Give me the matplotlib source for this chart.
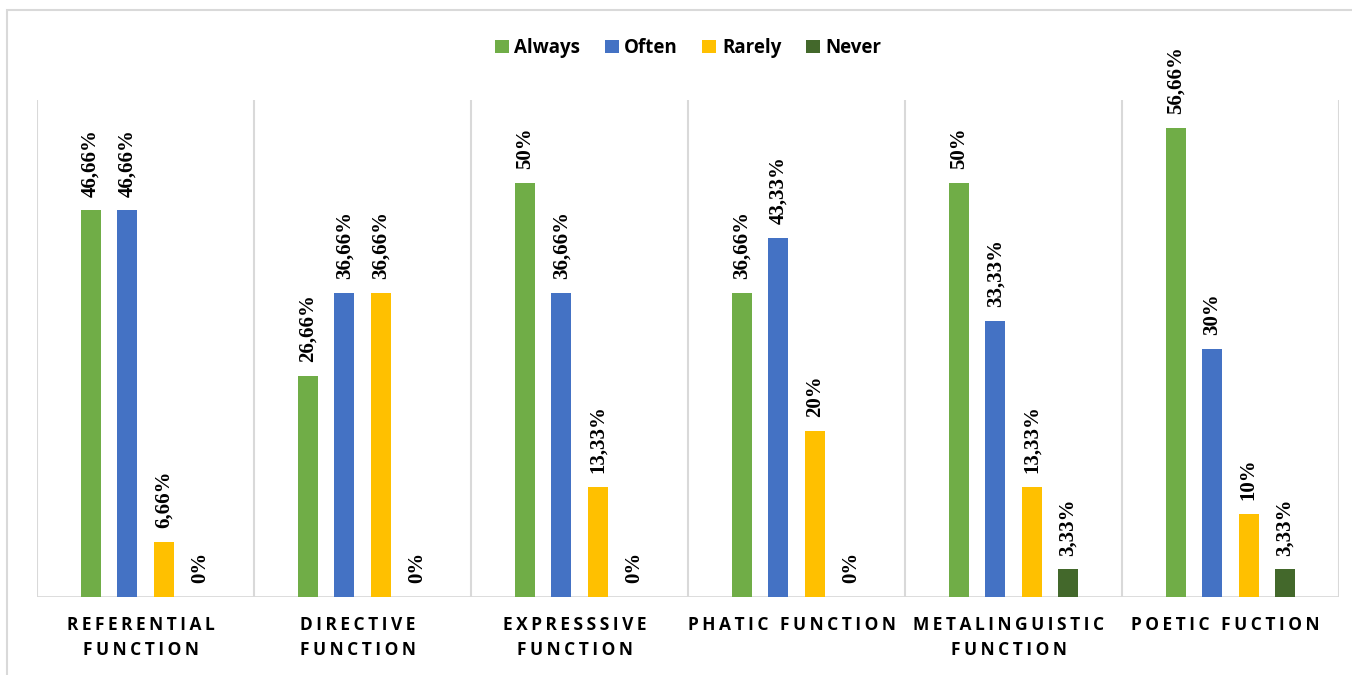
import matplotlib
matplotlib.use("Agg")
import matplotlib.pyplot as plt
import numpy as np
from matplotlib.patches import Rectangle, Patch

categories = [
    "REFERENTIAL\nFUNCTION",
    "DIRECTIVE\nFUNCTION",
    "EXPRESSSIVE\nFUNCTION",
    "PHATIC FUNCTION",
    "METALINGUISTIC\nFUNCTION",
    "POETIC FUCTION",
]
series_names = ["Always", "Often", "Rarely", "Never"]
always = [46.66, 26.66, 50, 36.66, 50, 56.66]
often = [46.66, 36.66, 36.66, 43.33, 33.33, 30]
rarely = [6.66, 36.66, 13.33, 20, 13.33, 10]
never = [0, 0, 0, 0, 3.33, 3.33]

colors = ["#70AD47", "#4472C4", "#FFC000", "#43682B"]
grid_color = "#D9D9D9"

W, H = 1352, 675
fig = plt.figure(figsize=(W / 100, H / 100), dpi=100)
ax = fig.add_axes([37 / W, 1 - 597 / H, (1339 - 37) / W, (597 - 100) / H])

x = np.arange(len(categories))
step = 0.168
width = 0.092
all_series = [always, often, rarely, never]

for i, (vals, col) in enumerate(zip(all_series, colors)):
    pos = x + (i - 1.5) * step
    ax.bar(pos, vals, width=width, color=col, zorder=3)
    for xp, v in zip(pos, vals):
        label = f"{v:g}".replace(".", ",") + "%"
        ax.annotate(label, (xp, v), xytext=(0, 10), textcoords="offset points",
                    rotation=90, ha="center", va="bottom",
                    fontfamily="Liberation Serif", fontweight="bold",
                    fontsize=15, color="black")

ax.set_xlim(-0.5, len(categories) - 0.5)
ax.set_ylim(0, 60)
for b in np.arange(len(categories) + 1) - 0.5:
    ax.axvline(b, color=grid_color, lw=1.5, zorder=1)
ax.axhline(0, color=grid_color, lw=2, zorder=2)
for s in ax.spines.values():
    s.set_visible(False)
ax.set_yticks([])
ax.set_xticks([])


def spaced(s):
    # widen the tracking of the category captions
    return "\n".join("\u2009".join(line) for line in s.split("\n"))


for xi, cat in zip(x, categories):
    ax.text(xi - 0.022, -2.3, spaced(cat), ha="center", va="top",
            fontfamily=["Open Sans", "DejaVu Sans"], fontweight="bold",
            fontsize=12.5, linespacing=1.5, color="black")

handles = [Patch(facecolor=c, edgecolor="none") for c in colors]
fig.legend(handles, series_names, loc="center", bbox_to_anchor=(688 / W, 1 - 48 / H),
           ncol=4, frameon=False, handlelength=0.75, handleheight=0.75,
           handletextpad=0.3, columnspacing=1.3,
           prop={"family": "Open Sans", "weight": "bold", "size": 13.5})

fig.patches.append(Rectangle((7 / W, -0.05), 1.1, 1 - 10 / H + 0.05,
                             transform=fig.transFigure, fill=False,
                             edgecolor=grid_color, lw=1.5))

fig.savefig("out.png", dpi=100)
